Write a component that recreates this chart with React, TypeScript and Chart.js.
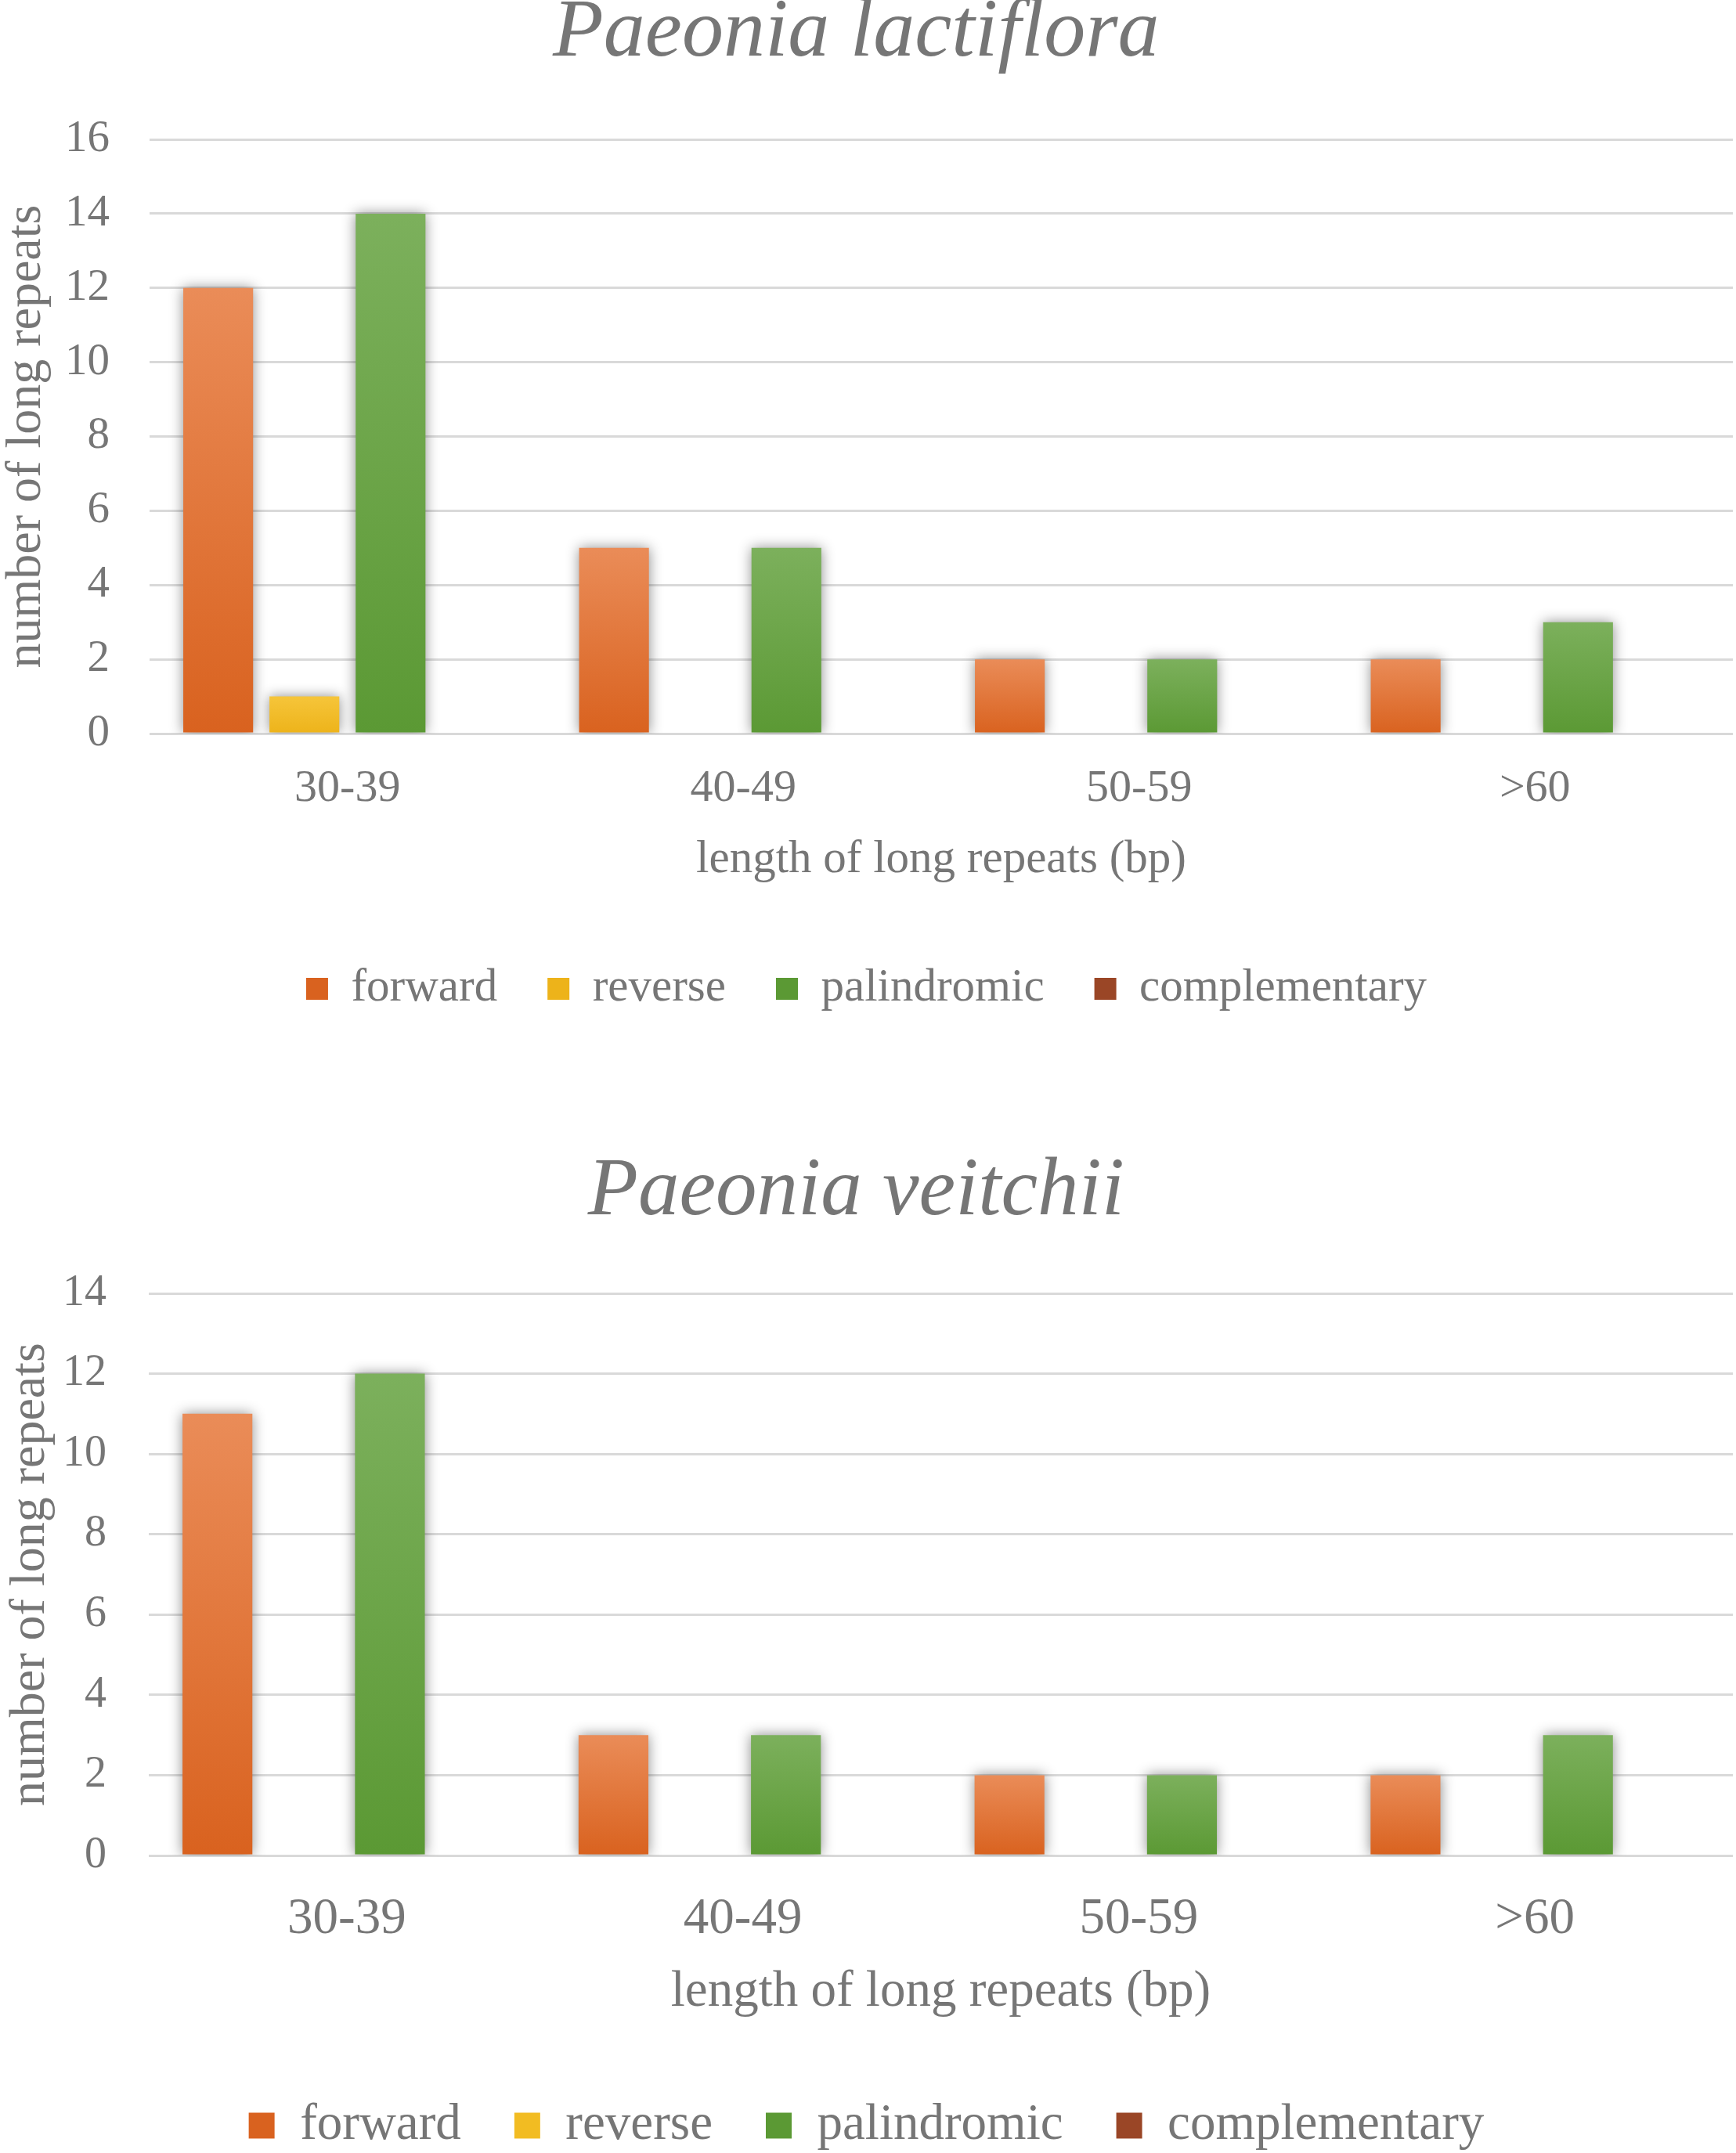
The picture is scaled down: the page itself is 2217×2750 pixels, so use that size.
import { Chart, ChartConfiguration, registerables } from "chart.js";
import React, { useEffect, useRef } from "react";

Chart.register(...registerables);

const categories = ["30-39", "40-49", "50-59", ">60"];
const seriesNames = ["forward", "reverse", "palindromic", "complementary"];

// Paeonia lactiflora
const lactifloraForward = [12, 5, 2, 2];
const lactifloraReverse = [1, 0, 0, 0];
const lactifloraPalindromic = [14, 5, 2, 3];
const lactifloraComplementary = [0, 0, 0, 0];

// Paeonia veitchii
const veitchiiForward = [11, 3, 2, 2];
const veitchiiReverse = [0, 0, 0, 0];
const veitchiiPalindromic = [12, 3, 2, 3];
const veitchiiComplementary = [0, 0, 0, 0];

const yTicksTop = { max: 16, step: 2 };
const yTicksBottom = { max: 14, step: 2 };

// [top of bar, bottom of bar, legend]
const palette = [
  ["#EA8C58", "#D9621F", "#E6762F"],
  ["#F6C53A", "#EDB31A", "#F2BC22"],
  ["#7CB05C", "#5B9934", "#68A444"],
  ["#A85232", "#8A3A1C", "#9A4626"],
];

const TEXT = "#767676";
const FONT = "'Liberation Serif', 'Times New Roman', serif";

const barShadow = {
  id: "barShadow",
  beforeDatasetsDraw(chart: Chart) {
    const ctx = chart.ctx;
    ctx.save();
    ctx.shadowColor = "rgba(0,0,0,0.45)";
    ctx.shadowBlur = 16;
  },
  afterDatasetsDraw(chart: Chart) {
    chart.ctx.restore();
  },
};

interface Layout {
  height: number;
  title: string;
  titleSize: number;
  titlePadTop: number;
  titlePadBottom: number;
  yWidth: number;
  yTickSize: number;
  yTickPad: number;
  yTitlePad: number;
  xTickSize: number;
  xTickPad: number;
  xHeight: number;
  xTitleSize: number;
  xTitlePadBottom: number;
  legendSize: number;
  legendBox: number;
  legendPad: number;
  padBottom: number;
}

function makeConfig(values: number[][], yTicks: { max: number; step: number }, L: Layout): ChartConfiguration {
  const datasets = values.map((data, i) => ({
    label: seriesNames[i],
    data,
    borderWidth: 0,
    backgroundColor: (c: any) => {
      if (c.type !== "data") return palette[i][2];
      const chart = c.chart;
      const y = chart.scales.y;
      if (!y) return palette[i][2];
      const top = y.getPixelForValue(c.raw);
      const bottom = y.getPixelForValue(0);
      if (!isFinite(top) || !isFinite(bottom) || top === bottom) return palette[i][2];
      const g = chart.ctx.createLinearGradient(0, top, 0, bottom);
      g.addColorStop(0, palette[i][0]);
      g.addColorStop(1, palette[i][1]);
      return g;
    },
  }));

  return {
    type: "bar",
    data: { labels: categories, datasets },
    plugins: [barShadow],
    options: {
      animation: false,
      responsive: false,
      maintainAspectRatio: false,
      devicePixelRatio: 1,
      categoryPercentage: 0.871,
      barPercentage: 0.81,
      layout: { padding: { top: 0, left: 0, right: 4, bottom: L.padBottom } },
      plugins: {
        tooltip: { enabled: false },
        title: {
          display: true,
          // trailing space nudges the centred title a little left, as in the original
          text: L.title + " ",
          color: TEXT,
          font: { family: FONT, size: L.titleSize, style: "italic", weight: "normal", lineHeight: 0.8 },
          padding: { top: L.titlePadTop, bottom: L.titlePadBottom },
        },
        legend: {
          display: true,
          position: "bottom",
          labels: {
            color: TEXT,
            font: { family: FONT, size: L.legendSize },
            boxWidth: L.legendBox,
            boxHeight: L.legendBox,
            padding: L.legendPad,
          },
        },
      },
      scales: {
        x: {
          grid: { display: false },
          border: { display: false },
          ticks: {
            color: TEXT,
            font: { family: FONT, size: L.xTickSize },
            padding: L.xTickPad,
            maxRotation: 0,
          },
          title: {
            display: true,
            text: "length of long repeats (bp)",
            color: TEXT,
            font: { family: FONT, size: L.xTitleSize },
            padding: { top: 0, bottom: L.xTitlePadBottom },
          },
          afterFit: (scale: any) => {
            scale.height = L.xHeight;
          },
        },
        y: {
          min: 0,
          max: yTicks.max,
          grid: { color: "#D9D9D9", lineWidth: 3, drawTicks: false },
          border: { display: false },
          ticks: {
            stepSize: yTicks.step,
            color: TEXT,
            font: { family: FONT, size: L.yTickSize },
            padding: L.yTickPad,
          },
          title: {
            display: true,
            text: "number of long repeats",
            color: TEXT,
            font: { family: FONT, size: 64, lineHeight: 0.9 },
            padding: { top: L.yTitlePad, bottom: 0 },
          },
          afterFit: (scale: any) => {
            scale.width = L.yWidth;
          },
        },
      },
    } as any,
  };
}

const ChartComponent = ({ config, width, height, top }: { config: ChartConfiguration; width: number; height: number; top: number }) => {
  const chartRef = useRef<HTMLCanvasElement | null>(null);

  useEffect(() => {
    if (chartRef.current) {
      const chart = new Chart(chartRef.current, config);
      return () => chart.destroy();
    }
  }, [config]);

  return (
    <canvas
      ref={chartRef}
      width={width}
      height={height}
      style={{ position: "absolute", left: 0, top, width, height }}
    ></canvas>
  );
};

const topLayout: Layout = {
  height: 1375,
  title: "Paeonia lactiflora",
  titleSize: 106,
  titlePadTop: 1,
  titlePadBottom: 92.2,
  yWidth: 191,
  yTickSize: 57,
  yTickPad: 51,
  yTitlePad: 5,
  xTickSize: 58,
  xTickPad: 28,
  xHeight: 232.4,
  xTitleSize: 59,
  xTitlePadBottom: 36,
  legendSize: 59,
  legendBox: 28,
  legendPad: 64,
  padBottom: 72.6,
};

const bottomLayout: Layout = {
  height: 1400,
  title: "Paeonia veitchii",
  titleSize: 105,
  titlePadTop: 106,
  titlePadBottom: 87,
  yWidth: 190,
  yTickSize: 56,
  yTickPad: 54,
  yTitlePad: 10,
  xTickSize: 65,
  xTickPad: 35,
  xHeight: 244.5,
  xTitleSize: 65,
  xTitlePadBottom: 30.5,
  legendSize: 65,
  legendBox: 33,
  legendPad: 68,
  padBottom: 17.5,
};

const topConfig = makeConfig(
  [lactifloraForward, lactifloraReverse, lactifloraPalindromic, lactifloraComplementary],
  yTicksTop,
  topLayout
);
const bottomConfig = makeConfig(
  [veitchiiForward, veitchiiReverse, veitchiiPalindromic, veitchiiComplementary],
  yTicksBottom,
  bottomLayout
);

export default function App() {
  return (
    <div
      style={{
        position: "absolute",
        left: 0,
        top: 0,
        width: 2217,
        height: 2750,
        overflow: "hidden",
        background: "#FFFFFF",
      }}
    >
      <ChartComponent config={topConfig} width={2217} height={topLayout.height} top={0} />
      <ChartComponent config={bottomConfig} width={2217} height={bottomLayout.height} top={1375} />
    </div>
  );
}
